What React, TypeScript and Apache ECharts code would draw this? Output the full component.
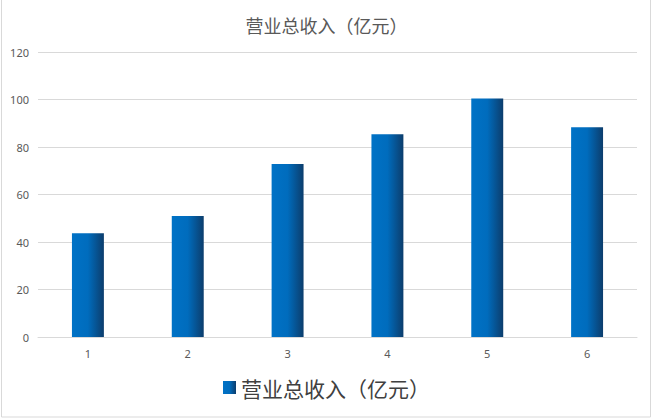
import React, { useEffect, useRef } from "react";
import * as echarts from "echarts";

const categories = ["1", "2", "3", "4", "5", "6"];
const revenue = [43.7, 50.9, 72.8, 85.4, 100.4, 88.3];
const seriesName = "营业总收入（亿元）";
const titleText = "营业总收入（亿元）";

export default function App() {
  const ref = useRef<HTMLDivElement>(null);
  useEffect(() => {
    const chart = echarts.init(ref.current!, null, { renderer: "svg" });
    const barColor = new echarts.graphic.LinearGradient(0, 0, 1, 0, [
      { offset: 0, color: "#0072C6" },
      { offset: 0.5, color: "#006CBD" },
      { offset: 1, color: "#0C3D6C" },
    ]);
    chart.setOption({
      animation: false,
      backgroundColor: "#ffffff",
      title: {
        text: titleText,
        left: "center",
        top: 11,
        textStyle: {
          fontFamily: "Noto Sans CJK SC",
          fontSize: 18,
          fontWeight: "normal",
          color: "#595959",
        },
      },
      legend: {
        bottom: 16,
        left: "center",
        itemWidth: 13,
        itemHeight: 13,
        itemGap: 9,
        icon: "rect",
        textStyle: {
          fontFamily: "Noto Sans CJK SC",
          fontSize: 21,
          color: "#404040",
        },
        data: [seriesName],
      },
      grid: { left: 38, right: 16, top: 52, bottom: 82 },
      xAxis: {
        type: "category",
        data: categories,
        axisLine: { lineStyle: { color: "#d9d9d9" } },
        axisTick: { show: false },
        axisLabel: {
          color: "#595959",
          fontSize: 11,
          margin: 11,
          fontFamily: "Noto Sans",
        },
      },
      yAxis: {
        type: "value",
        min: 0,
        max: 120,
        interval: 20,
        axisLine: { show: false },
        axisTick: { show: false },
        splitLine: { lineStyle: { color: "#d9d9d9" } },
        axisLabel: {
          color: "#595959",
          fontSize: 11,
          margin: 9,
          fontFamily: "Noto Sans",
        },
      },
      series: [
        {
          name: seriesName,
          type: "bar",
          data: revenue,
          barWidth: "32%",
          itemStyle: { color: barColor },
        },
      ],
      graphic: [
        {
          type: "rect",
          shape: { x: 1.5, y: -2, width: 649, height: 419 },
          style: { fill: "none", stroke: "#d9d9d9", lineWidth: 1 },
          silent: true,
        },
      ],
    });
    return () => chart.dispose();
  }, []);
  return (
    <div
      ref={ref}
      style={{ position: "fixed", left: 0, top: 0, width: 653, height: 419 }}
    />
  );
}
